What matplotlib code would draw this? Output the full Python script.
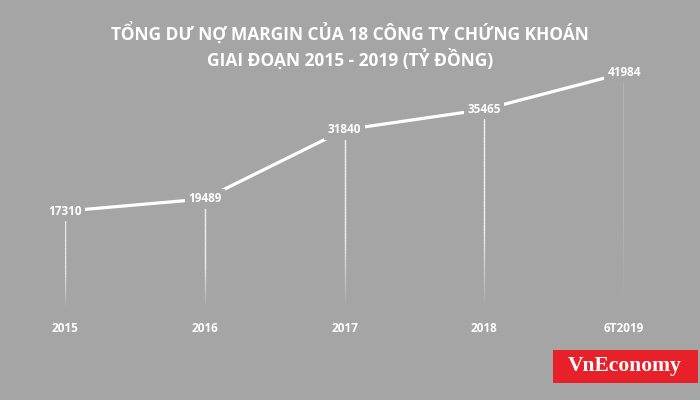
import numpy as np
import matplotlib.pyplot as plt
from matplotlib.collections import LineCollection
from matplotlib.patches import Rectangle

years = ['2015', '2016', '2017', '2018', '6T2019']
margin_debt = [17310, 19489, 31840, 35465, 41984]
title = 'TỔNG DƯ NỢ MARGIN CỦA 18 CÔNG TY CHỨNG KHOÁN\nGIAI ĐOẠN 2015 - 2019 (TỶ ĐỒNG)'

bg = '#a5a5a5'
fonts = ['Open Sans', 'Noto Sans', 'DejaVu Sans']

fig = plt.figure(figsize=(7, 4), dpi=100, facecolor=bg)
ax = fig.add_axes([65 / 700, (400 - 308) / 400, (624 - 65) / 700, (308 - 73) / 400])
ax.set_facecolor(bg)
for s in ax.spines.values():
    s.set_visible(False)

x = np.arange(len(years))
ax.set_xlim(0, len(years) - 1)
ax.set_ylim(0, max(margin_debt))

# drop lines fading toward the bottom
for xi, v in zip(x, margin_debt):
    ys = np.linspace(0, v, 60)
    segs = [[(xi, ys[i]), (xi, ys[i + 1])] for i in range(len(ys) - 1)]
    alphas = np.clip(np.linspace(0, 2.5, len(segs)), 0, 1) * 0.9
    cols = [(1, 1, 1, a) for a in alphas]
    ax.add_collection(LineCollection(segs, colors=cols, linewidths=1.0, zorder=1))

ax.plot(x, margin_debt, color='white', lw=2.3, zorder=2, clip_on=False,
        solid_capstyle='butt')

for xi, v in zip(x, margin_debt):
    ax.text(xi, v, str(v), ha='center', va='center', color='white',
            fontsize=8.5, fontweight='bold', family=fonts, zorder=3,
            bbox=dict(facecolor=bg, edgecolor='none', pad=2.5), clip_on=False)

ax.set_yticks([])
ax.set_xticks(x)
ax.set_xticklabels(years, color='white', fontsize=8.5, fontweight='bold', family=fonts)
ax.tick_params(axis='x', length=0, pad=10)

fig.text(0.5, 0.886, title, ha='center', va='center', color='white',
         fontsize=12.5, fontweight='bold', family=fonts, linespacing=1.25)

# logo
fig.patches.append(Rectangle((553 / 700, (400 - 383) / 400), 145 / 700, 33 / 400,
                             transform=fig.transFigure, facecolor='#e8202a',
                             edgecolor='none'))
fig.text((553 + 72) / 700, (400 - 366) / 400, 'VnEconomy', ha='center', va='center',
         color='white', fontsize=15.5, fontweight='bold', family='Liberation Serif')

fig.savefig('out.png', dpi=100, facecolor=bg)
